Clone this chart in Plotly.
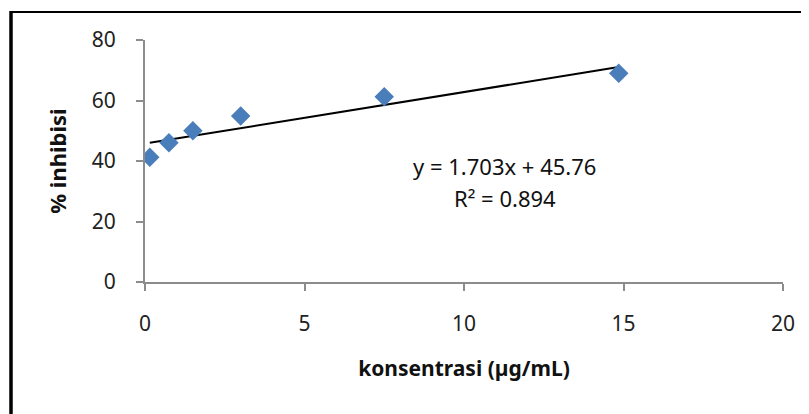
import plotly.graph_objects as go

# data
konsentrasi = [0.15, 0.75, 1.5, 3.0, 7.5, 14.85]
inhibisi = [41.2, 46.0, 50.0, 54.9, 61.2, 69.0]
slope = 1.703
intercept = 45.76
r2 = 0.894
x_ticks = [0, 5, 10, 15, 20]
y_ticks = [0, 20, 40, 60, 80]

FONT = "Noto Sans"

x_line = [min(konsentrasi), max(konsentrasi)]
y_line = [slope * v + intercept for v in x_line]

fig = go.Figure()
fig.add_trace(go.Scatter(
    x=x_line, y=y_line, mode="lines",
    line=dict(color="black", width=2), hoverinfo="skip", showlegend=False))
fig.add_trace(go.Scatter(
    x=konsentrasi, y=inhibisi, mode="markers",
    marker=dict(symbol="diamond", size=15, color="#4a7ebb",
                line=dict(width=0)),
    showlegend=False))

fig.add_annotation(x=360 / 638, y=116 / 242, xref="paper", yref="paper",
                   text=f"y = {slope}x + {intercept}", showarrow=False,
                   font=dict(family=FONT, size=22, color="#111"))
fig.add_annotation(x=360 / 638, y=84 / 242, xref="paper", yref="paper",
                   text=f"R² = {r2}", showarrow=False,
                   font=dict(family=FONT, size=22, color="#111"))

# decorative page border lines
fig.add_shape(type="line", xref="paper", yref="paper",
              x0=-135 / 638, x1=(801 - 137) / 638, y0=1 + 28 / 242, y1=1 + 28 / 242,
              line=dict(color="black", width=2))
fig.add_shape(type="line", xref="paper", yref="paper",
              x0=-134 / 638, x1=-134 / 638, y0=1 + 29 / 242, y1=-140 / 242,
              line=dict(color="black", width=3.5))

fig.update_layout(
    width=801, height=406,
    margin=dict(l=137, r=26, t=32, b=132),
    paper_bgcolor="white", plot_bgcolor="white",
    font=dict(family=FONT, color="#222"),
    xaxis=dict(range=[0, 20], tickvals=x_ticks, showgrid=False, zeroline=False,
               showline=True, linecolor="#8c8c8c", linewidth=2,
               ticks="outside", ticklen=7, tickcolor="#8c8c8c", tickwidth=2,
               tickfont=dict(size=21, color="#222"), ticklabelstandoff=15,
               title=dict(text="<b>konsentrasi (µg/mL)</b>", font=dict(size=21, color="#111"),
                          standoff=25)),
    yaxis=dict(range=[0, 80], tickvals=y_ticks, showgrid=False, zeroline=False,
               showline=True, linecolor="#8c8c8c", linewidth=2,
               ticks="outside", ticklen=7, tickcolor="#8c8c8c", tickwidth=2,
               tickfont=dict(size=21, color="#222"), ticklabelstandoff=16,
               title=dict(text="<b>% inhibisi</b>", font=dict(size=22, color="#111"),
                          standoff=19)),
)
fig.write_html("out.html")
